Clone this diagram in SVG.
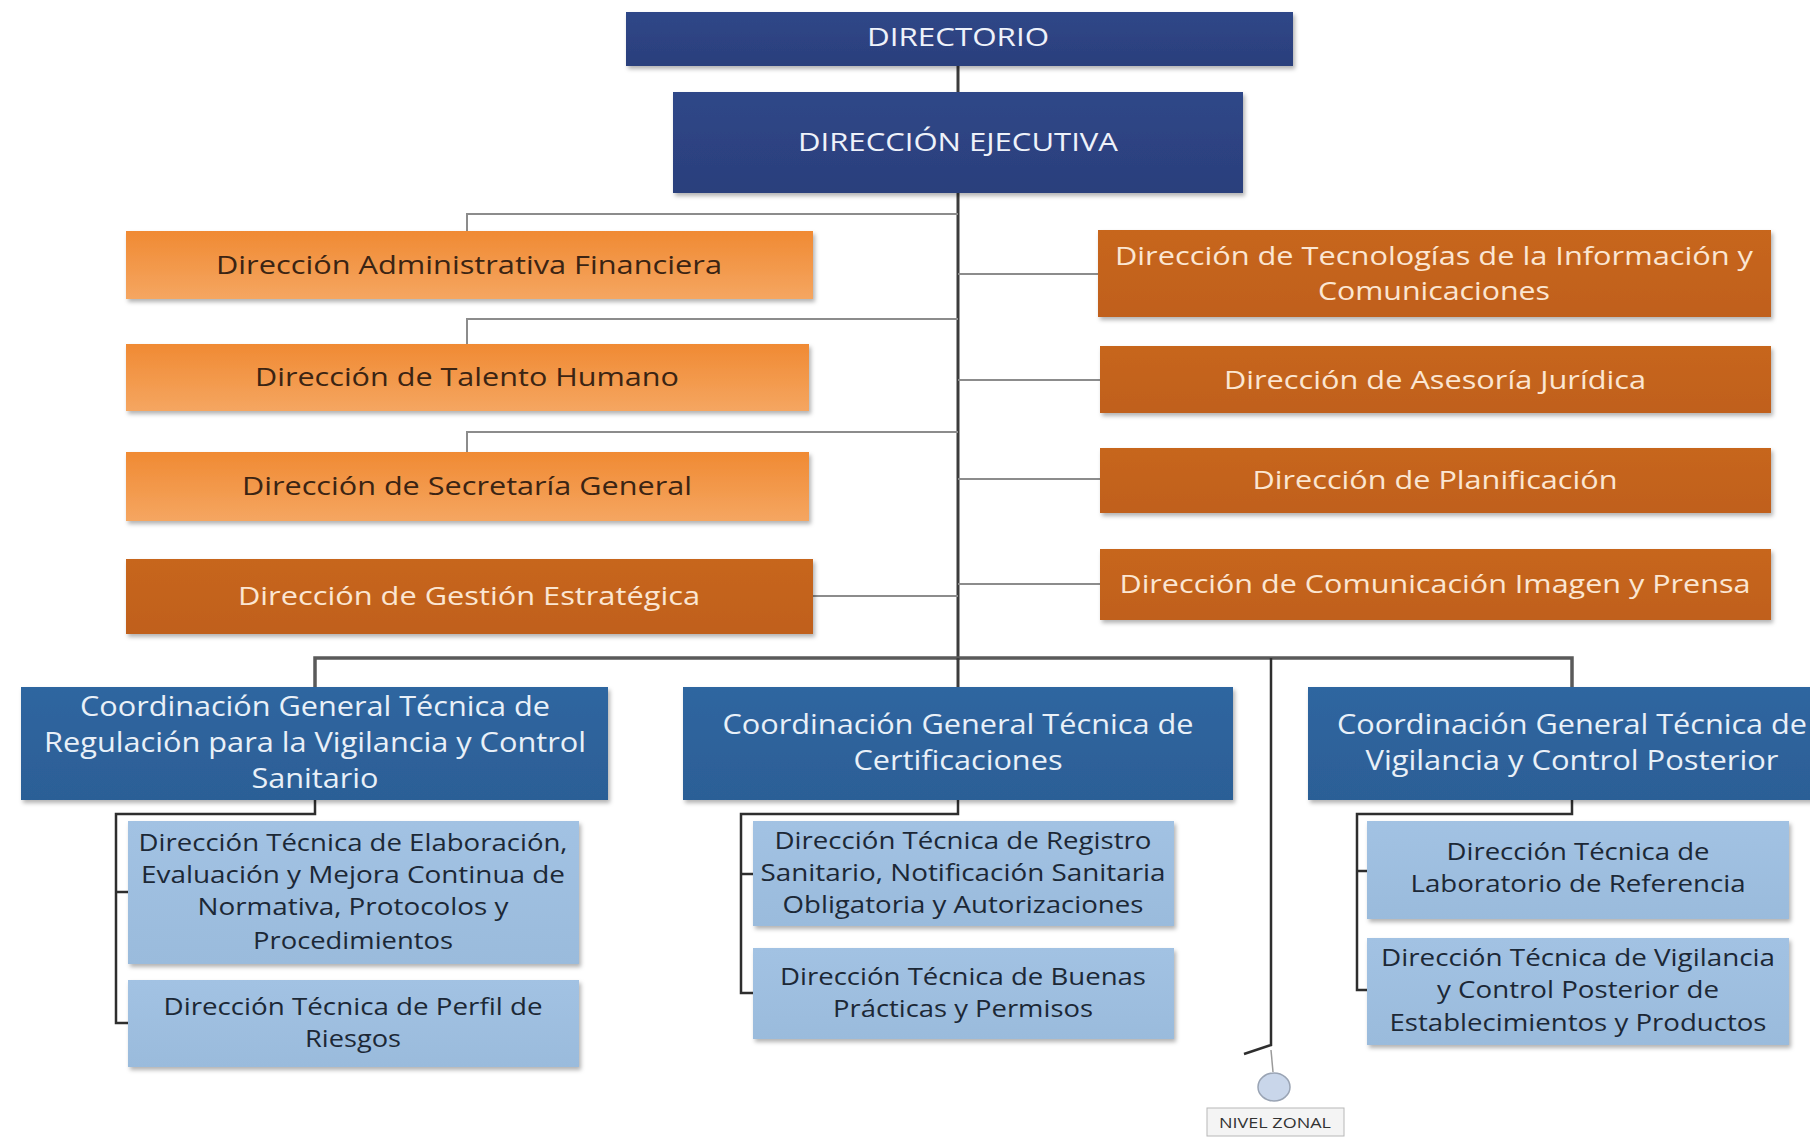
<svg xmlns="http://www.w3.org/2000/svg" width="1810" height="1137" viewBox="0 0 1810 1137">
<defs>
<linearGradient id="gNavy" x1="0" y1="0" x2="0" y2="1"><stop offset="0" stop-color="#2f4788"/><stop offset="1" stop-color="#2b3f7c"/></linearGradient>
<linearGradient id="gLo" x1="0" y1="0" x2="0" y2="1"><stop offset="0" stop-color="#f08a33"/><stop offset="1" stop-color="#f5a661"/></linearGradient>
<linearGradient id="gDo" x1="0" y1="0" x2="0" y2="1"><stop offset="0" stop-color="#c7661e"/><stop offset="1" stop-color="#c0601a"/></linearGradient>
<linearGradient id="gBlue" x1="0" y1="0" x2="0" y2="1"><stop offset="0" stop-color="#2f66a0"/><stop offset="1" stop-color="#2c5f96"/></linearGradient>
<linearGradient id="gLb" x1="0" y1="0" x2="0" y2="1"><stop offset="0" stop-color="#a2c2e3"/><stop offset="1" stop-color="#9abbdc"/></linearGradient>
<filter id="sh" x="-5%" y="-10%" width="110%" height="130%"><feDropShadow dx="2" dy="3" stdDeviation="2" flood-color="#000" flood-opacity="0.3"/></filter>
</defs>
<style>
text{font-family:"Open Sans","Liberation Sans",sans-serif;text-anchor:middle;}
.navy{fill:url(#gNavy);filter:url(#sh);}
.lo{fill:url(#gLo);filter:url(#sh);}
.do{fill:url(#gDo);filter:url(#sh);}
.blue{fill:url(#gBlue);filter:url(#sh);}
.lb{fill:url(#gLb);filter:url(#sh);}
.tw{fill:#eef2fa;font-size:26px;}
.tlo{fill:#3b2413;font-size:26px;}
.tdo{fill:#fbe6d2;font-size:26px;}
.tcg{fill:#e9f0f8;font-size:27px;}
.tlb{fill:#1c2836;font-size:23.5px;}
.main{stroke:#3c3c3c;stroke-width:3;fill:none;}
.br{stroke:#8c8c8c;stroke-width:2;fill:none;}
.bar{stroke:#5a5a5a;stroke-width:3.5;fill:none;}
.sub{stroke:#2e2e2e;stroke-width:2.5;fill:none;}
</style>
<rect width="1810" height="1137" fill="#ffffff"/>
<g id="connectors">
<line class="main" x1="958" y1="66" x2="958" y2="660"/>
<polyline class="br" points="958,214 467,214 467,231"/>
<polyline class="br" points="958,319 467,319 467,344"/>
<polyline class="br" points="958,432 467,432 467,452"/>
<line class="br" x1="813" y1="596" x2="958" y2="596"/>
<line class="br" x1="958" y1="274" x2="1098" y2="274"/>
<line class="br" x1="958" y1="380" x2="1100" y2="380"/>
<line class="br" x1="958" y1="479" x2="1100" y2="479"/>
<line class="br" x1="958" y1="584" x2="1100" y2="584"/>
<polyline class="bar" points="315,687 315,658 1572,658 1572,687"/>
<line class="main" x1="958" y1="658" x2="958" y2="687"/>
<polyline class="sub" points="315,800 315,814 116,814 116,1023 128,1023"/>
<line class="sub" x1="116" y1="892" x2="128" y2="892"/>
<polyline class="sub" points="958,800 958,814 741,814 741,993 753,993"/>
<line class="sub" x1="741" y1="874" x2="753" y2="874"/>
<polyline class="sub" points="1572,800 1572,814 1357,814 1357,990 1367,990"/>
<line class="sub" x1="1357" y1="871" x2="1367" y2="871"/>
<polyline class="sub" points="1271,658 1271,1045 1244,1054"/>
<line stroke="#9a9a9a" stroke-width="1.5" x1="1271" y1="1050" x2="1273" y2="1072"/>
</g>
<g id="directorio"><rect class="navy" x="626" y="12" width="667" height="54"/><text class="tw" x="958" y="46" textLength="182" lengthAdjust="spacingAndGlyphs">DIRECTORIO</text></g>
<g id="direccion-ejecutiva"><rect class="navy" x="673" y="92" width="570" height="101"/><text class="tw" x="958" y="151" textLength="320" lengthAdjust="spacingAndGlyphs">DIRECCIÓN EJECUTIVA</text></g>
<g id="adm-financiera"><rect class="lo" x="126" y="231" width="687" height="68"/><text class="tlo" x="469" y="274" textLength="506" lengthAdjust="spacingAndGlyphs">Dirección Administrativa Financiera</text></g>
<g id="talento-humano"><rect class="lo" x="126" y="344" width="683" height="67"/><text class="tlo" x="467" y="386" textLength="424" lengthAdjust="spacingAndGlyphs">Dirección de Talento Humano</text></g>
<g id="secretaria-general"><rect class="lo" x="126" y="452" width="683" height="69"/><text class="tlo" x="467" y="495" textLength="450" lengthAdjust="spacingAndGlyphs">Dirección de Secretaría General</text></g>
<g id="gestion-estrategica"><rect class="do" x="126" y="559" width="687" height="75"/><text class="tdo" x="469" y="605" textLength="462" lengthAdjust="spacingAndGlyphs">Dirección de Gestión Estratégica</text></g>
<g id="tic"><rect class="do" x="1098" y="230" width="673" height="87"/><text class="tdo" x="1434" y="265" textLength="638" lengthAdjust="spacingAndGlyphs">Dirección de Tecnologías de la Información y</text><text class="tdo" x="1434" y="300" textLength="232" lengthAdjust="spacingAndGlyphs">Comunicaciones</text></g>
<g id="asesoria-juridica"><rect class="do" x="1100" y="346" width="671" height="67"/><text class="tdo" x="1435" y="389" textLength="422" lengthAdjust="spacingAndGlyphs">Dirección de Asesoría Jurídica</text></g>
<g id="planificacion"><rect class="do" x="1100" y="448" width="671" height="65"/><text class="tdo" x="1435" y="489" textLength="365" lengthAdjust="spacingAndGlyphs">Dirección de Planificación</text></g>
<g id="comunicacion"><rect class="do" x="1100" y="549" width="671" height="71"/><text class="tdo" x="1435" y="593" textLength="631" lengthAdjust="spacingAndGlyphs">Dirección de Comunicación Imagen y Prensa</text></g>
<g id="cg-regulacion"><rect class="blue" x="21" y="687" width="587" height="113"/><text class="tcg" x="315" y="716" textLength="470" lengthAdjust="spacingAndGlyphs">Coordinación General Técnica de</text><text class="tcg" x="315" y="752" textLength="542" lengthAdjust="spacingAndGlyphs">Regulación para la Vigilancia y Control</text><text class="tcg" x="315" y="788" textLength="127" lengthAdjust="spacingAndGlyphs">Sanitario</text></g>
<g id="cg-certificaciones"><rect class="blue" x="683" y="687" width="550" height="113"/><text class="tcg" x="958" y="734" textLength="471" lengthAdjust="spacingAndGlyphs">Coordinación General Técnica de</text><text class="tcg" x="958" y="770" textLength="209" lengthAdjust="spacingAndGlyphs">Certificaciones</text></g>
<g id="cg-vigilancia"><rect class="blue" x="1308" y="687" width="510" height="113"/><text class="tcg" x="1572" y="734" textLength="470" lengthAdjust="spacingAndGlyphs">Coordinación General Técnica de</text><text class="tcg" x="1572" y="770" textLength="413" lengthAdjust="spacingAndGlyphs">Vigilancia y Control Posterior</text></g>
<g id="dt-elaboracion"><rect class="lb" x="128" y="821" width="451" height="143"/><text class="tlb" x="353" y="851" textLength="429" lengthAdjust="spacingAndGlyphs">Dirección Técnica de Elaboración,</text><text class="tlb" x="353" y="883" textLength="424" lengthAdjust="spacingAndGlyphs">Evaluación y Mejora Continua de</text><text class="tlb" x="353" y="915" textLength="311" lengthAdjust="spacingAndGlyphs">Normativa, Protocolos y</text><text class="tlb" x="353" y="949" textLength="200" lengthAdjust="spacingAndGlyphs">Procedimientos</text></g>
<g id="dt-perfil-riesgos"><rect class="lb" x="128" y="980" width="451" height="87"/><text class="tlb" x="353" y="1015" textLength="379" lengthAdjust="spacingAndGlyphs">Dirección Técnica de Perfil de</text><text class="tlb" x="353" y="1047" textLength="96" lengthAdjust="spacingAndGlyphs">Riesgos</text></g>
<g id="dt-registro"><rect class="lb" x="753" y="821" width="421" height="105"/><text class="tlb" x="963" y="849" textLength="377" lengthAdjust="spacingAndGlyphs">Dirección Técnica de Registro</text><text class="tlb" x="963" y="881" textLength="405" lengthAdjust="spacingAndGlyphs">Sanitario, Notificación Sanitaria</text><text class="tlb" x="963" y="913" textLength="361" lengthAdjust="spacingAndGlyphs">Obligatoria y Autorizaciones</text></g>
<g id="dt-buenas-practicas"><rect class="lb" x="753" y="948" width="421" height="91"/><text class="tlb" x="963" y="985" textLength="366" lengthAdjust="spacingAndGlyphs">Dirección Técnica de Buenas</text><text class="tlb" x="963" y="1017" textLength="260" lengthAdjust="spacingAndGlyphs">Prácticas y Permisos</text></g>
<g id="dt-laboratorio"><rect class="lb" x="1367" y="821" width="422" height="98"/><text class="tlb" x="1578" y="860" textLength="263" lengthAdjust="spacingAndGlyphs">Dirección Técnica de</text><text class="tlb" x="1578" y="892" textLength="335" lengthAdjust="spacingAndGlyphs">Laboratorio de Referencia</text></g>
<g id="dt-vigilancia-posterior"><rect class="lb" x="1367" y="938" width="422" height="107"/><text class="tlb" x="1578" y="966" textLength="394" lengthAdjust="spacingAndGlyphs">Dirección Técnica de Vigilancia</text><text class="tlb" x="1578" y="998" textLength="282" lengthAdjust="spacingAndGlyphs">y Control Posterior de</text><text class="tlb" x="1578" y="1031" textLength="377" lengthAdjust="spacingAndGlyphs">Establecimientos y Productos</text></g>
<g id="nivel-zonal"><ellipse cx="1274" cy="1087" rx="16" ry="14" fill="#c9d6ea" stroke="#9aa4b4" stroke-width="1.5"/><rect x="1207" y="1108" width="137" height="28" fill="#f4f4f4" stroke="#b8b8b8" stroke-width="1"/><text x="1275" y="1128" textLength="112" lengthAdjust="spacingAndGlyphs" style="font-size:15px;fill:#333;">NIVEL ZONAL</text></g>
</svg>
